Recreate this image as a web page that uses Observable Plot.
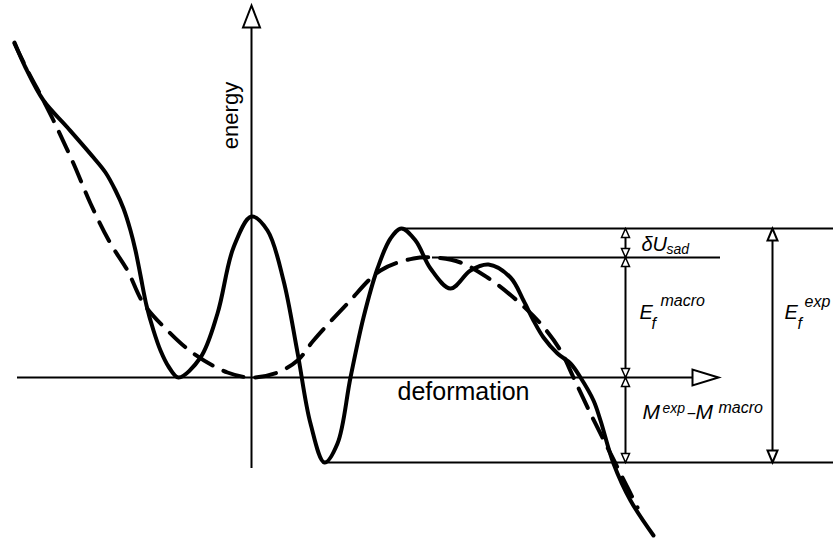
<!DOCTYPE html>
<html><head><meta charset="utf-8">
<script src="https://cdn.jsdelivr.net/npm/d3@7"></script>
<script src="https://cdn.jsdelivr.net/npm/@observablehq/plot@0.6"></script>
<style>body{margin:0;background:#fff}#chart svg{display:block}</style>
</head><body><div id="chart"></div>
<script>
// Diagram units: deformation (x) and energy (y), origin at the crossing of the axes
const solidX = [-237,-226,-208,-184,-158,-146,-136,-128,-121,-116,-111,-105,-98,-91,-83,-73,-51,-34,-18,0,16,32,46,59,73,86,99,112,126,139,150,164,179,199,219,237,259,272,282,292,306,319,329,342,349,362,379,402];
const solidY = [335,310,277,250,220,205,187,169,147,127,102,72,47,27,11,0,20,64,130,161,147,97,25,-46,-85,-66,0,60,109,139,149,137,109,89,107,113,100,77,57,40,24,14,0,-23,-43,-86,-123,-158];
const dashX = [-237,-224,-208,-198,-178,-161,-141,-124,-108,-84,-58,-24,0,26,46,62,96,129,162,182,209,236,262,289,309,322,339,356,369,386];
const dashY = [334,307,277,257,214,174,134,107,74,47,24,5,0,5,17,37,74,107,119,120,115,100,80,54,27,0,-36,-70,-96,-130];

// Energy levels
const groundLevel = 0;
const macroSaddle = 120;
const expSaddle = 149;
const expGround = -85;

// Reference level lines
const levelY  = [expSaddle, macroSaddle, expGround];
const levelX1 = [149, 181, 72];
const levelX2 = [582, 469, 582];

// Dimension arrows (x position, from level, to level)
const dimX    = [374, 374, 374, 521];
const dimFrom = [expSaddle, macroSaddle, groundLevel, expSaddle];
const dimTo   = [macroSaddle, groundLevel, expGround, expGround];

// Axes extent
const axisXmin = -234, axisXmax = 441, axisXtip = 467;
const axisYmin = -91, axisYmax = 350, axisYtip = 372;

// Annotation labels
const labelKeys = ["δU_sad", "E_f^macro", "E_f^exp", "M^exp−M^macro"];
const labelX = [390, 388, 533, 391];
const labelY = [127, 59, 59, -41];
const labelParts = [
  [["δU", 0, 0, 20], ["sad", 25, 3, 14]],
  [["E", 0, 0, 20], ["f", 12, 10, 16], ["macro", 21, -13, 16]],
  [["E", 0, 0, 20], ["f", 13, 10, 16], ["exp", 20, -12, 16]],
  [["M", 0, 0, 21], ["exp", 20, -6, 14], ["−", 44, 0, 16], ["M", 53, 0, 21], ["macro", 76, -6, 16]]
];

const solid = solidX.map((x, i) => ({x, y: solidY[i]}));
const dashed = dashX.map((x, i) => ({x, y: dashY[i]}));
const levels = levelY.map((y, i) => ({y, x1: levelX1[i], x2: levelX2[i]}));
const dims = dimX.map((x, i) => ({x, y1: dimFrom[i], y2: dimTo[i]}));
const labels = labelKeys.map((k, i) => ({k, x: labelX[i], y: labelY[i]}));
const partsByKey = new Map(labelKeys.map((k, i) => [k, labelParts[i]]));

// arrowheads: tip at point, rotate 0 = up
const smallHeads = [];
dims.slice(0, 3).forEach(d => {
  smallHeads.push({x: d.x, y: d.y1, r: 0});
  smallHeads.push({x: d.x, y: d.y2, r: 180});
});
const bigHeads = [{x: dims[3].x, y: dims[3].y1, r: 0}, {x: dims[3].x, y: dims[3].y2, r: 180}];
const yHead = [{x: 0, y: axisYtip, r: 0}];
const xHead = [{x: axisXtip, y: groundLevel, r: 90}];

function head(len, hw) {
  return {draw(ctx) { ctx.moveTo(0, 0); ctx.lineTo(-hw, len); ctx.lineTo(hw, len); ctx.closePath(); }};
}

const font = "Liberation Sans, Arial, Helvetica, sans-serif";

const chart = Plot.plot({
  width: 836, height: 539, margin: 0,
  x: {domain: [-251, 585], axis: null},
  y: {domain: [-162, 377], axis: null},
  style: {background: "white"},
  marks: [
    Plot.ruleY([groundLevel], {x1: axisXmin, x2: axisXmax, stroke: "black", strokeWidth: 2}),
    Plot.ruleX([0], {y1: axisYmin, y2: axisYmax, stroke: "black", strokeWidth: 2}),
    Plot.ruleY(levels, {y: "y", x1: "x1", x2: "x2", stroke: "black", strokeWidth: 2}),
    Plot.ruleX(dims, {x: "x", y1: "y1", y2: "y2", stroke: "black", strokeWidth: 2}),
    Plot.line(dashed, {x: "x", y: "y", curve: "catmull-rom", stroke: "black", strokeWidth: 4, strokeDasharray: "21,12"}),
    Plot.line(solid, {x: "x", y: "y", curve: "catmull-rom", stroke: "black", strokeWidth: 4, strokeLinecap: "round"}),
    Plot.dot(smallHeads, {x: "x", y: "y", rotate: "r", symbol: head(9, 4), fill: "white", stroke: "black", strokeWidth: 1.5}),
    Plot.dot(bigHeads, {x: "x", y: "y", rotate: "r", symbol: head(12, 5), fill: "white", stroke: "black", strokeWidth: 2}),
    Plot.dot(yHead, {x: "x", y: "y", rotate: "r", symbol: head(22, 8.5), fill: "white", stroke: "black", strokeWidth: 2}),
    Plot.dot(xHead, {x: "x", y: "y", rotate: "r", symbol: head(26, 8), fill: "white", stroke: "black", strokeWidth: 2}),
    Plot.text(["deformation"], {x: 212, y: -22, text: d => d, fontSize: 25, fontFamily: font, textAnchor: "middle", lineAnchor: "bottom", fill: "black"}),
    Plot.text(["energy"], {x: -21, y: 262, text: d => d, rotate: -90, fontSize: 22, fontFamily: font, textAnchor: "middle", lineAnchor: "middle", fill: "black"}),
    Plot.text(labels, {x: "x", y: "y", text: "k", fontSize: 20, fontStyle: "italic", fontFamily: font, textAnchor: "start", lineAnchor: "bottom", fill: "black"})
  ]
});

// turn the annotation labels into sub/superscripted text
d3.select(chart).selectAll("text").each(function () {
  const parts = partsByKey.get(this.textContent);
  if (!parts) return;
  const t = d3.select(this);
  t.text(null).attr("y", null);
  for (const [s, dx, dy, size] of parts) {
    t.append("tspan").attr("x", dx).attr("y", dy).attr("font-size", size).text(s);
  }
});
document.getElementById("chart").append(chart);
</script>
</body></html>
